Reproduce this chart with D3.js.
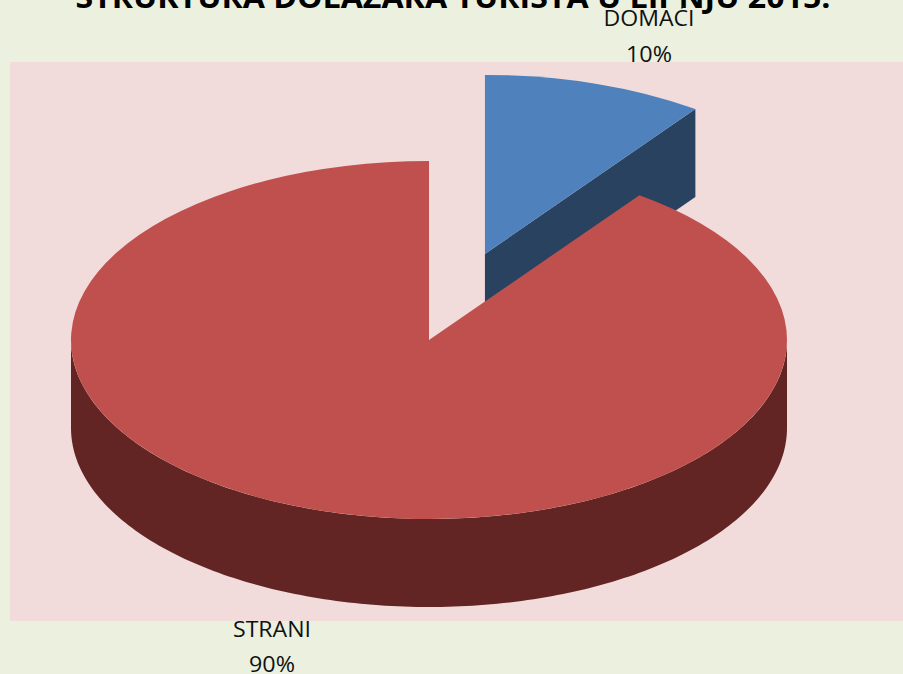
<!DOCTYPE html>
<html><head><meta charset="utf-8">
<script src="https://cdn.jsdelivr.net/npm/d3@7"></script>
<style>html,body{margin:0;padding:0;background:#EBF0DF;overflow:hidden}svg{display:block}</style>
</head><body><svg id="c" width="903" height="674"></svg>
<script>
const titleText = "STRUKTURA DOLAZAKA TURISTA U LIPNJU 2015.";
const categories = ["DOMAĆI", "STRANI"];
const values = [10, 90];
const percentLabels = ["10%", "90%"];
const topColors = ["#4F81BD", "#C0504D"];
const sideColors = ["#284260", "#632523"];

const W = 903, H = 674;
const svg = d3.select("#c");
const R = 358, squash = 0.5, depth = 88, explode = 181;
const cx = 429, cy = 340;
const font = "'Open Sans', sans-serif";

svg.append("rect").attr("width", W).attr("height", H).attr("fill", "#EBF0DF");
svg.append("rect").attr("x", 10).attr("y", 62).attr("width", 893).attr("height", 559).attr("fill", "#F2DCDB");

const slices = d3.pie().sort(null)(values);
const arc = d3.arc().innerRadius(0).outerRadius(R);

function centre(i) {
  const s = slices[i];
  if (i !== 0) return [cx, cy];
  const m = (s.startAngle + s.endAngle) / 2;
  return [cx + explode * Math.sin(m), cy - explode * Math.cos(m) * squash];
}
const pt = (c, a, r = R) => [c[0] + r * Math.sin(a), c[1] - r * Math.cos(a) * squash];

function wall(i) {
  const s = slices[i], c = centre(i);
  if (i === 0) {
    const e = pt(c, s.endAngle);
    return d3.line()([c, e, [e[0], e[1] + depth], [c[0], c[1] + depth]]);
  }
  const as = d3.range(Math.PI / 2, 3 * Math.PI / 2 + 0.001, Math.PI / 180);
  const upper = as.map(a => pt(c, a));
  const lower = as.map(a => { const p = pt(c, a); return [p[0], p[1] + depth]; }).reverse();
  return d3.line()(upper.concat(lower)) + "Z";
}

slices.forEach((s, i) => {
  const c = centre(i);
  svg.append("path").attr("d", wall(i)).attr("fill", sideColors[i]);
  svg.append("path").attr("d", arc(s)).attr("fill", topColors[i])
    .attr("transform", `translate(${c[0]},${c[1]}) scale(1,${squash})`);
});

svg.append("text").text(titleText).attr("x", 453).attr("y", 8)
  .attr("text-anchor", "middle").attr("font-family", font).attr("font-weight", 700)
  .attr("font-size", 30).attr("textLength", 755).attr("lengthAdjust", "spacingAndGlyphs").attr("fill", "#000");

const labelPos = [[649, 26, 62], [272, 637, 672]];
const labelWidth = [[91, 46], [78, 46]];
categories.forEach((n, i) => {
  [n, percentLabels[i]].forEach((t, j) => {
    svg.append("text").text(t).attr("x", labelPos[i][0]).attr("y", labelPos[i][j + 1])
      .attr("text-anchor", "middle").attr("font-family", font).attr("font-size", 22)
      .attr("textLength", labelWidth[i][j]).attr("lengthAdjust", "spacingAndGlyphs").attr("fill", "#111");
  });
});
</script></body></html>
